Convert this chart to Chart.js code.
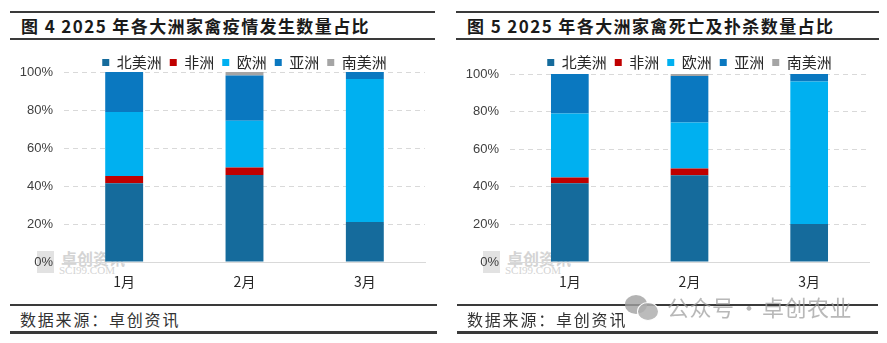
<!DOCTYPE html>
<html lang="zh">
<head>
<meta charset="utf-8">
<script src="https://cdn.jsdelivr.net/npm/chart.js@4.4.1/dist/chart.umd.min.js"></script>
<style>
  html, body { margin: 0; padding: 0; background: #fff; }
  body { width: 887px; height: 343px; position: relative; overflow: hidden; font-family: "Noto Sans CJK SC", sans-serif; }
  .line { position: absolute; background: #3a3a3a; }
  .title { position: absolute; top: 14px; font-size: 17px; font-weight: bold; color: #1a1a1a; letter-spacing: 1.4px; line-height: 24px; white-space: nowrap; }
  .source { position: absolute; top: 308px; font-size: 16px; color: #333; line-height: 22px; letter-spacing: 1.8px; white-space: nowrap; }
  .box { position: absolute; top: 44px; width: 440px; height: 256px; }
  .wm { position: absolute; color: #d4d4d4; }
  .wm .logo { position: absolute; left: 0; top: 0; width: 17px; height: 22px; background: #e2e2e2; }
  .wm .cn { position: absolute; left: 24px; top: -5px; font-size: 16px; font-weight: bold; white-space: nowrap; }
  .wm .en { position: absolute; left: 22px; top: 13px; font-size: 11px; font-family: "Liberation Serif", serif; white-space: nowrap; }
  .wx { position: absolute; left: 625px; top: 290px; color: rgba(160,160,160,0.75); font-size: 22px; white-space: nowrap; }
  .wx .b1 { position: absolute; left: 0; top: 5px; width: 22px; height: 19px; border-radius: 50%; background: rgba(160,160,160,0.8); }
  .wx .b2 { position: absolute; left: 12px; top: 12px; width: 20px; height: 17px; border-radius: 50%; background: rgba(175,175,175,0.85); border: 1px solid #fff; }
  .wx span { position: absolute; top: 0; letter-spacing: 0.5px; }
</style>
</head>
<body>
<!-- 左图 -->
<div class="line" style="left:10px;top:11px;width:425px;height:2px;"></div>
<div class="title" style="left:21px;">图 4 2025 年各大洲家禽疫情发生数量占比</div>
<div class="line" style="left:10px;top:38px;width:425px;height:2px;"></div>
<div class="wm" style="left:37px;top:251px;"><div class="logo"></div><div class="cn">卓创资讯</div><div class="en">SCI99.COM</div></div>
<div class="box" style="left:0;"><canvas id="chart-left"></canvas></div>
<div class="line" style="left:10px;top:304px;width:427px;height:2px;"></div>
<div class="source" style="left:20px;">数据来源：卓创资讯</div>
<div class="line" style="left:10px;top:331px;width:427px;height:3px;"></div>

<!-- 右图 -->
<div class="line" style="left:456px;top:11px;width:423px;height:2px;"></div>
<div class="title" style="left:467px;">图 5 2025 年各大洲家禽死亡及扑杀数量占比</div>
<div class="line" style="left:456px;top:38px;width:423px;height:2px;"></div>
<div class="wm" style="left:483px;top:251px;"><div class="logo"></div><div class="cn">卓创资讯</div><div class="en">SCI99.COM</div></div>
<div class="box" style="left:446px;"><canvas id="chart-right"></canvas></div>
<div class="line" style="left:457px;top:304px;width:421px;height:2px;"></div>
<div class="source" style="left:467px;">数据来源：卓创资讯</div>
<div class="line" style="left:457px;top:331px;width:421px;height:3px;"></div>

<div class="wx"><div class="b1"></div><div class="b2"></div><span style="left:42px;">公众号</span><span style="left:113px;">·</span><span style="left:137px;">卓创农业</span></div>

<script>
// --- 数据 ---
const months = ['1月', '2月', '3月'];
const regions = ['北美洲', '非洲', '欧洲', '亚洲', '南美洲'];
const regionColors = ['#156b9c', '#c00000', '#00b0f0', '#0a78c0', '#a5a5a5'];
const yTicks = [0, 20, 40, 60, 80, 100];

// 图4 疫情发生数量占比 (%)
const outbreakNorthAmerica = [41.5, 45.8, 21.0];
const outbreakAfrica       = [3.7, 4.0, 0];
const outbreakEurope       = [33.7, 24.5, 75.3];
const outbreakAsia         = [21.1, 23.9, 3.7];
const outbreakSouthAmerica = [0, 1.8, 0];

// 图5 死亡及扑杀数量占比 (%)
const cullNorthAmerica = [41.9, 46.2, 20.2];
const cullAfrica       = [3.0, 3.5, 0];
const cullEurope       = [34.1, 24.5, 75.8];
const cullAsia         = [21.0, 24.7, 4.0];
const cullSouthAmerica = [0, 1.1, 0];

// 图例高度固定，保证绘图区位置
const legendHeight = {
    id: 'legendHeight',
    afterInit(chart, args, opts) {
        const legend = chart.legend;
        if (!legend) return;
        const fit = legend.fit;
        legend.fit = function () {
            fit.call(this);
            this.height = opts.height;
        };
    }
};

function makeChart(canvasId, seriesList, legendH, rightPad) {
    const ctx = document.getElementById(canvasId).getContext('2d');
    return new Chart(ctx, {
        type: 'bar',
        data: {
            labels: months,
            datasets: seriesList.map((values, i) => ({
                label: regions[i],
                data: values,
                backgroundColor: regionColors[i],
                borderWidth: 0,
                categoryPercentage: 0.63,
                barPercentage: 0.5
            }))
        },
        options: {
            responsive: true,
            maintainAspectRatio: false,
            animation: false,
            layout: { padding: { top: 3, right: rightPad, bottom: 0, left: 0 } },
            plugins: {
                legendHeight: { height: legendH },
                legend: {
                    position: 'top',
                    fullSize: false,
                    labels: {
                        boxWidth: 7,
                        boxHeight: 7,
                        padding: 8,
                        color: '#262626',
                        font: { family: '"Noto Sans CJK SC", sans-serif', size: 15 }
                    }
                },
                tooltip: { enabled: false }
            },
            scales: {
                x: {
                    stacked: true,
                    afterFit: scale => { scale.height = 38; },
                    grid: { display: false, drawTicks: false },
                    border: { display: true, color: '#d9d9d9', width: 1 },
                    ticks: {
                        padding: 11,
                        color: '#262626',
                        font: { family: '"Noto Sans CJK SC", sans-serif', size: 14 }
                    }
                },
                y: {
                    stacked: true,
                    min: 0,
                    max: 100,
                    afterFit: scale => { scale.width = 64; },
                    afterBuildTicks: scale => { scale.ticks = yTicks.map(v => ({ value: v })); },
                    grid: { color: '#d9d9d9', lineWidth: 1, drawTicks: false },
                    border: { display: false, dash: [5, 4] },
                    ticks: {
                        padding: 11,
                        color: '#404040',
                        font: { family: '"Liberation Sans", Arial, sans-serif', size: 13 },
                        callback: v => v + '%'
                    }
                }
            }
        },
        plugins: [legendHeight]
    });
}

makeChart('chart-left',
    [outbreakNorthAmerica, outbreakAfrica, outbreakEurope, outbreakAsia, outbreakSouthAmerica], 25, 15);
makeChart('chart-right',
    [cullNorthAmerica, cullAfrica, cullEurope, cullAsia, cullSouthAmerica], 27, 17);
</script>
</body>
</html>
